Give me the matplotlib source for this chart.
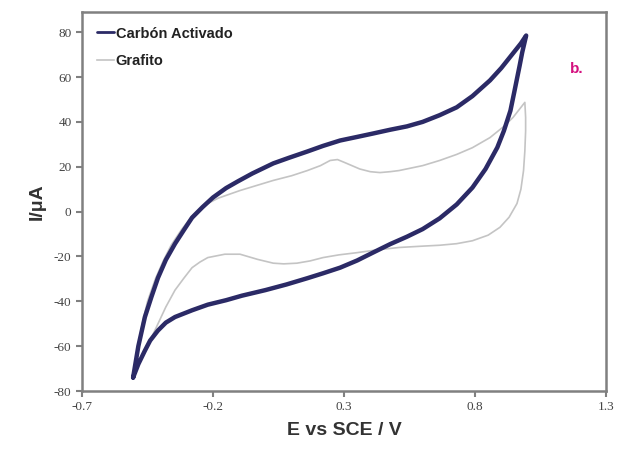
import matplotlib.pyplot as plt

plt.rcParams["axes.unicode_minus"] = False

# Carbón Activado: forward scan (-0.5 -> 1.0 V) then reverse scan
ca_fwd_E = [-0.505, -0.485, -0.46, -0.435, -0.41, -0.38, -0.345, -0.31, -0.28, -0.24,
            -0.20, -0.15, -0.105, -0.05, 0.03, 0.09, 0.16, 0.22, 0.285, 0.35, 0.41,
            0.476, 0.54, 0.60, 0.665, 0.73, 0.79, 0.857, 0.90, 0.945, 0.975, 0.995]
ca_fwd_I = [-74, -60, -47, -38, -29.5, -21.5, -14.3, -8, -2.7, 2,
            6.3, 10.5, 13.5, 17, 21.5, 24, 26.8, 29.3, 31.7, 33.3, 34.8,
            36.5, 38, 40, 43, 46.5, 51.5, 58.5, 64, 70.6, 75, 78.5]
ca_rev_E = [0.995, 0.98, 0.97, 0.95, 0.935, 0.91, 0.885, 0.84, 0.79, 0.73, 0.665, 0.60,
            0.54, 0.476, 0.41, 0.35, 0.285, 0.22, 0.16, 0.08, 0.0, -0.09, -0.15, -0.22,
            -0.28, -0.345, -0.38, -0.41, -0.44, -0.46, -0.485, -0.505]
ca_rev_I = [78.5, 71, 65, 53.5, 45, 36, 28.6, 19, 10.7, 3.2, -3, -7.8,
            -11.2, -14.5, -18.3, -21.8, -25, -27.5, -29.7, -32.5, -35, -37.5, -39.5, -41.5,
            -44, -47, -49.5, -53, -57.5, -62, -68, -74]

# Grafito
gr_fwd_E = [-0.505, -0.49, -0.47, -0.45, -0.42, -0.39, -0.36, -0.32, -0.28, -0.23,
            -0.18, -0.097, 0.03, 0.10, 0.16, 0.21, 0.247, 0.275, 0.30, 0.33, 0.36,
            0.40, 0.437, 0.476, 0.51, 0.60, 0.665, 0.73, 0.79, 0.857, 0.91, 0.945, 0.99]
gr_fwd_I = [-74, -62, -50, -40, -30, -22, -15, -8, -2, 3,
            6, 9.4, 13.9, 16, 18.3, 20.5, 22.8, 23.2, 22, 20.5, 19,
            17.8, 17.4, 17.8, 18.3, 20.5, 22.8, 25.5, 28.5, 33, 38, 42, 48.7]
gr_rev_E = [0.99, 0.993, 0.993, 0.99, 0.985, 0.975, 0.96, 0.93, 0.895, 0.85, 0.79, 0.73,
            0.665, 0.60, 0.51, 0.43, 0.35, 0.28, 0.22, 0.17, 0.12, 0.07, 0.03, -0.03,
            -0.097, -0.155, -0.22, -0.25, -0.28, -0.31, -0.345, -0.38, -0.41, -0.43,
            -0.46, -0.485, -0.505]
gr_rev_I = [48.7, 42, 36, 27, 18.3, 10, 3.6, -2.5, -7, -10.5, -13, -14.3,
            -15, -15.4, -16, -17, -18.3, -19.3, -20.5, -22, -23, -23.3, -23, -21.3,
            -19, -19, -20.5, -22.5, -25, -29.5, -35, -42.5, -50, -55,
            -62, -68, -74]

xticks = [-0.7, -0.2, 0.3, 0.8, 1.3]
yticks = [-80, -60, -40, -20, 0, 20, 40, 60, 80]

fig = plt.figure(figsize=(6.18, 4.51), dpi=100)
ax = fig.add_axes([0.1327, 0.133, 0.848, 0.8404])

ax.plot(gr_fwd_E + gr_rev_E, gr_fwd_I + gr_rev_I, color="#c4c4c4", lw=1.2,
        label="Grafito", zorder=2, solid_joinstyle="round")
ax.plot(ca_fwd_E + ca_rev_E, ca_fwd_I + ca_rev_I, color="#2b2a66", lw=3.2,
        label="Carbón Activado", zorder=3, solid_capstyle="round",
        solid_joinstyle="round")

ax.set_xlim(-0.7, 1.3)
ax.set_ylim(-80, 89)
ax.set_xticks(xticks)
ax.set_xticklabels([f"{t:g}" for t in xticks])
ax.set_yticks(yticks)

for s in ax.spines.values():
    s.set_color("#808080")
    s.set_linewidth(1.8)
ax.tick_params(direction="out", length=4, width=1.5, color="#808080",
               labelsize=9.5, labelcolor="#444444")
for lab in ax.get_xticklabels() + ax.get_yticklabels():
    lab.set_family("Liberation Serif")

ax.set_xlabel("E vs SCE / V", fontsize=14, fontweight="bold", family="Liberation Sans",
              color="#333333", labelpad=6)
ax.set_ylabel("I/μA", fontsize=14, fontweight="bold", family="Liberation Sans",
              color="#333333", labelpad=6)

h, l = ax.get_legend_handles_labels()
leg = ax.legend(h[::-1], l[::-1], loc="upper left", frameon=False, handlelength=1.2,
                handletextpad=0.1, borderaxespad=0.6, labelspacing=0.9,
                prop={"family": "Liberation Sans", "weight": "bold", "size": 10.5})
leg.get_lines()[0].set_linewidth(2)
for t in leg.get_texts():
    t.set_color("#222222")

ax.text(1.19, 63.5, "b.", color="#d4117f", fontsize=11, fontweight="bold",
        family="Liberation Sans", ha="center", va="center")

fig.savefig("out.png", dpi=100)
